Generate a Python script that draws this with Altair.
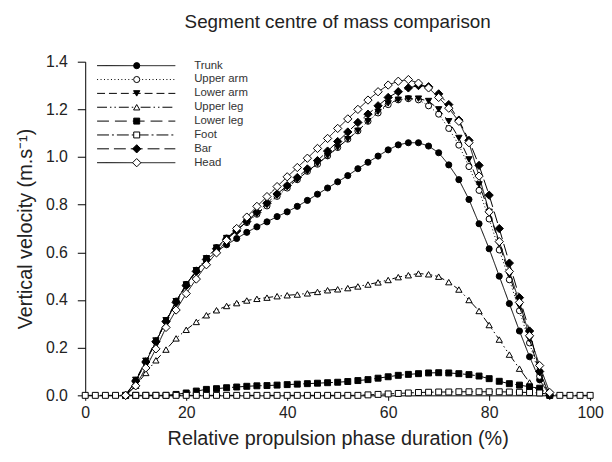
import altair as alt
import pandas as pd

# ---------------- data ----------------
segments = ["Trunk", "Upper arm", "Lower arm", "Upper leg", "Lower leg", "Foot", "Bar", "Head"]

x_main = [8, 10, 12, 14, 16, 18, 20, 22, 24, 26, 28, 30, 32, 34, 36, 38, 40, 42, 44, 46, 48, 50,
          52, 54, 56, 58, 60, 62, 64, 66, 68, 70, 72, 74, 76, 78, 80, 82, 84, 86, 88, 90, 92]
x_foot = [0, 2, 4, 6] + x_main + [94, 96, 98, 100]

trunk = [0.0, 0.06, 0.14, 0.225, 0.31, 0.395, 0.465, 0.522, 0.568, 0.603, 0.632, 0.658, 0.684, 0.707,
         0.728, 0.75, 0.77, 0.793, 0.818, 0.844, 0.87, 0.896, 0.922, 0.951, 0.978, 1.004, 1.03, 1.051,
         1.06, 1.06, 1.046, 1.018, 0.967, 0.905, 0.822, 0.72, 0.615, 0.50, 0.385, 0.27, 0.162, 0.065, 0.0]
upper_arm = [0.0, 0.06, 0.14, 0.225, 0.31, 0.395, 0.465, 0.525, 0.575, 0.62, 0.66, 0.695, 0.725, 0.76,
             0.795, 0.835, 0.87, 0.905, 0.94, 0.97, 1.005, 1.04, 1.075, 1.11, 1.15, 1.185, 1.22, 1.24,
             1.245, 1.24, 1.215, 1.18, 1.12, 1.05, 0.96, 0.86, 0.74, 0.61, 0.485, 0.355, 0.22, 0.08, 0.0]
lower_arm = [0.0, 0.065, 0.145, 0.23, 0.315, 0.395, 0.465, 0.525, 0.575, 0.62, 0.66, 0.695, 0.728, 0.762,
             0.80, 0.838, 0.875, 0.905, 0.94, 0.972, 1.005, 1.04, 1.075, 1.11, 1.15, 1.19, 1.225, 1.24,
             1.245, 1.245, 1.235, 1.20, 1.15, 1.08, 0.99, 0.885, 0.77, 0.635, 0.505, 0.375, 0.235, 0.095, 0.0]
upper_leg = [0.0, 0.04, 0.094, 0.147, 0.192, 0.239, 0.275, 0.308, 0.336, 0.357, 0.375, 0.387, 0.398, 0.405,
             0.41, 0.416, 0.42, 0.423, 0.428, 0.434, 0.441, 0.445, 0.45, 0.457, 0.465, 0.474, 0.484, 0.496,
             0.504, 0.511, 0.508, 0.498, 0.475, 0.444, 0.40, 0.354, 0.295, 0.234, 0.171, 0.112, 0.054, 0.012, 0.0]
lower_leg = [0.0, 0.0, 0.0, 0.0, 0.0, 0.004, 0.01, 0.018, 0.025, 0.028, 0.032, 0.035, 0.038, 0.04,
             0.041, 0.043, 0.045, 0.047, 0.049, 0.051, 0.053, 0.055, 0.058, 0.062, 0.066, 0.072, 0.078, 0.084,
             0.088, 0.091, 0.094, 0.095, 0.094, 0.091, 0.087, 0.081, 0.07, 0.059, 0.049, 0.043, 0.036, 0.03, 0.0]
foot = [0.0, 0.0, 0.0, 0.0,
        0.0, 0.0, 0.0, 0.0, 0.0, 0.0, 0.0, 0.0, 0.0, 0.0, 0.0, 0.0, 0.0, 0.0, 0.0, 0.0, 0.0, 0.0, 0.0, 0.0,
        0.0, 0.0, 0.0, 0.0, 0.002, 0.004, 0.006, 0.008, 0.01, 0.012, 0.013, 0.014, 0.014, 0.015, 0.015, 0.015,
        0.015, 0.015, 0.014, 0.013, 0.012, 0.01, 0.004,
        0.0, 0.0, 0.0, 0.0]
bar = [0.0, 0.06, 0.14, 0.225, 0.31, 0.39, 0.46, 0.52, 0.57, 0.615, 0.655, 0.69, 0.73, 0.768,
       0.806, 0.845, 0.88, 0.914, 0.95, 0.985, 1.025, 1.065, 1.105, 1.145, 1.18, 1.215, 1.25, 1.274,
       1.29, 1.30, 1.295, 1.265, 1.22, 1.155, 1.07, 0.965, 0.84, 0.70, 0.555, 0.41, 0.27, 0.10, 0.0]
head = [0.0, 0.04, 0.115, 0.195, 0.285, 0.358, 0.427, 0.488, 0.548, 0.598, 0.65, 0.70, 0.748, 0.793,
        0.834, 0.876, 0.917, 0.956, 0.995, 1.036, 1.078, 1.12, 1.16, 1.20, 1.239, 1.274, 1.302, 1.318,
        1.325, 1.31, 1.29, 1.25, 1.205, 1.15, 1.06, 0.92, 0.77, 0.645, 0.52, 0.39, 0.25, 0.125, 0.012]

values = {"Trunk": trunk, "Upper arm": upper_arm, "Lower arm": lower_arm, "Upper leg": upper_leg,
          "Lower leg": lower_leg, "Foot": foot, "Bar": bar, "Head": head}

x_ticks = [0, 20, 40, 60, 80, 100]
y_ticks = [0.0, 0.2, 0.4, 0.6, 0.8, 1.0, 1.2, 1.4]

# ---------------- styles ----------------
style = {
    "Trunk":     dict(dash=[1, 0],                 shape="circle",        fill="black", size=38),
    "Upper arm": dict(dash=[1, 2.5],               shape="circle",        fill="white", size=38),
    "Lower arm": dict(dash=[8, 4],                 shape="triangle-down", fill="black", size=40),
    "Upper leg": dict(dash=[10, 3, 1.5, 3, 1.5, 3], shape="triangle-up",  fill="white", size=40),
    "Lower leg": dict(dash=[12, 6],                shape="square",        fill="black", size=36),
    "Foot":      dict(dash=[12, 3, 2, 3],          shape="square",        fill="white", size=36),
    "Bar":       dict(dash=[12, 5],                shape="diamond",       fill="black", size=70),
    "Head":      dict(dash=[1, 0],                 shape="diamond",       fill="white", size=70),
}

FONT = "Liberation Sans"
TXT = "#222222"

rows = []
for name in segments:
    xs = x_foot if name == "Foot" else x_main
    for xv, yv in zip(xs, values[name]):
        rows.append({"segment": name, "x": xv, "v": yv})
df = pd.DataFrame(rows)

x_enc = alt.X("x:Q", scale=alt.Scale(domain=[0, 100], nice=False, zero=False),
              axis=alt.Axis(values=x_ticks, format="d", title="Relative propulsion phase duration (%)",
                            grid=False, tickSize=5, labelFontSize=16, titleFontSize=20, labelFlush=False,
                            labelPadding=4, titlePadding=9, domainColor="black", tickColor="black",
                            labelColor=TXT, titleColor=TXT, titleFontWeight="normal",
                            labelFont=FONT, titleFont=FONT))
y_enc = alt.Y("v:Q", scale=alt.Scale(domain=[0, 1.4], nice=False),
              axis=alt.Axis(values=y_ticks, format=".1f", title="Vertical velocity (m.s\u207b\u00b9)",
                            grid=False, tickSize=8, labelFontSize=16, titleFontSize=20, labelFlush=False,
                            labelPadding=10, titlePadding=10, domainColor="black", tickColor="black",
                            labelColor=TXT, titleColor=TXT, titleFontWeight="normal",
                            labelFont=FONT, titleFont=FONT))

layers = []
for name in segments:
    st = style[name]
    base = alt.Chart(df).transform_filter(alt.datum.segment == name)
    layers.append(base.mark_line(color="black", strokeWidth=1, strokeDash=st["dash"]).encode(x=x_enc, y=y_enc))
    layers.append(base.mark_point(shape=st["shape"], filled=True, fill=st["fill"], stroke="black",
                                  strokeWidth=1, size=st["size"], opacity=1).encode(x=x_enc, y=y_enc))

# ---------------- legend (drawn inside the plot, top-left) ----------------
LEG_TOP, LEG_STEP = 4, 14
for i, name in enumerate(segments):
    st = style[name]
    ldf = pd.DataFrame({"segment": [name]})
    yy = LEG_TOP + LEG_STEP * i
    lb = alt.Chart(ldf)
    layers.append(lb.mark_rule(color="black", strokeWidth=1, strokeDash=st["dash"]).encode(
        x=alt.value(12), x2=alt.value(91), y=alt.value(yy)))
    layers.append(lb.mark_point(shape=st["shape"], filled=True, fill=st["fill"], stroke="black",
                                strokeWidth=1, size=st["size"], opacity=1).encode(
        x=alt.value(52), y=alt.value(yy)))
    layers.append(lb.mark_text(align="left", baseline="middle", fontSize=11.5, font=FONT, color="#333333").encode(
        x=alt.value(110), y=alt.value(yy), text="segment:N"))

chart = alt.layer(*layers).properties(
    width=510, height=337,
    title=alt.TitleParams("Segment centre of mass comparison", fontSize=19, font=FONT,
                          fontWeight="normal", color=TXT, anchor="middle", offset=22),
    autosize=alt.AutoSizeParams(type="none"),
    padding={"left": 78, "top": 52, "right": 14, "bottom": 57},
).configure_view(stroke=None)

chart.save("out.html", embed_options={"renderer": "svg", "actions": False})
